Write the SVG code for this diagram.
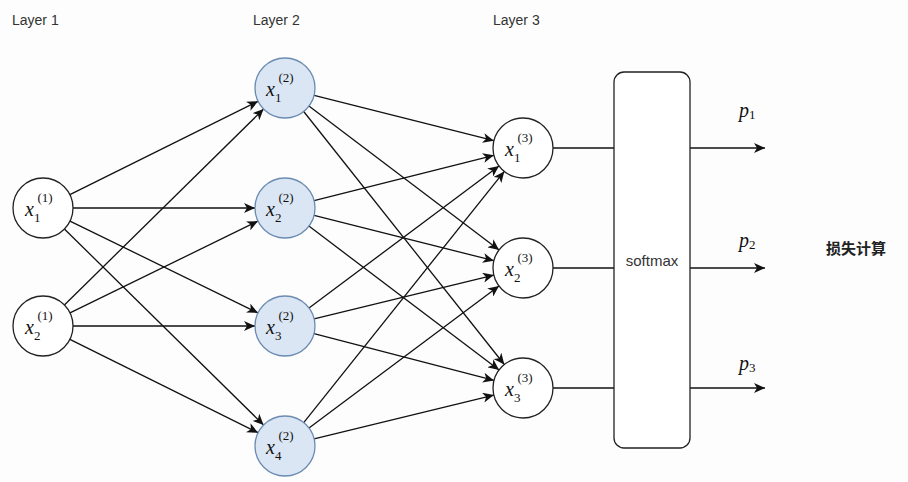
<svg xmlns="http://www.w3.org/2000/svg" width="908" height="482" viewBox="0 0 908 482">
<style>
.lbl{font-family:"Liberation Sans",Arial,sans-serif;font-size:14px;fill:#333}
.n{stroke:#222;stroke-width:1.3;fill:#fff}
.b{fill:#dae6f4;stroke:#6b8bb0}
.c line{stroke:#111;stroke-width:1.3}
.m{font-family:"Liberation Serif","Times New Roman",serif;font-style:italic;fill:#111}
.x{font-size:20px}
.s{font-size:13px;font-style:normal}
</style>
<defs>
<marker id="a" markerWidth="12" markerHeight="10" refX="11" refY="5" orient="auto" markerUnits="userSpaceOnUse"><path d="M0,0 L11,5 L0,10 L3,5 Z" fill="#111"/></marker>
</defs>
<rect width="908" height="482" fill="#fcfdfc"/>
<text class="lbl" x="12" y="25">Layer 1</text>
<text class="lbl" x="253" y="25">Layer 2</text>
<text class="lbl" x="493" y="25">Layer 3</text>
<g class="c">
<line x1="69.9" y1="194.7" x2="258.1" y2="101.3" marker-end="url(#a)"/>
<line x1="73" y1="208" x2="255" y2="208" marker-end="url(#a)"/>
<line x1="70" y1="221.1" x2="258" y2="312.9" marker-end="url(#a)"/>
<line x1="64.4" y1="229" x2="263.6" y2="425" marker-end="url(#a)"/>
<line x1="64.4" y1="305" x2="263.6" y2="109" marker-end="url(#a)"/>
<line x1="70" y1="312.9" x2="258" y2="221.1" marker-end="url(#a)"/>
<line x1="73" y1="326" x2="255" y2="326" marker-end="url(#a)"/>
<line x1="69.9" y1="339.3" x2="258.1" y2="432.7" marker-end="url(#a)"/>
<line x1="314.1" y1="95.3" x2="493.9" y2="140.7" marker-end="url(#a)"/>
<line x1="308.9" y1="106.1" x2="499.1" y2="249.9" marker-end="url(#a)"/>
<line x1="303.7" y1="111.5" x2="504.3" y2="364.5" marker-end="url(#a)"/>
<line x1="314.1" y1="200.7" x2="493.9" y2="155.3" marker-end="url(#a)"/>
<line x1="314.1" y1="215.3" x2="493.9" y2="260.7" marker-end="url(#a)"/>
<line x1="308.9" y1="226.1" x2="499.1" y2="369.9" marker-end="url(#a)"/>
<line x1="309" y1="308" x2="499" y2="166" marker-end="url(#a)"/>
<line x1="314.1" y1="318.9" x2="493.9" y2="275.1" marker-end="url(#a)"/>
<line x1="314" y1="333.6" x2="494" y2="380.4" marker-end="url(#a)"/>
<line x1="303.7" y1="422.6" x2="504.3" y2="171.4" marker-end="url(#a)"/>
<line x1="309" y1="428" x2="499" y2="286" marker-end="url(#a)"/>
<line x1="314.1" y1="438.9" x2="493.9" y2="395.1" marker-end="url(#a)"/>
<line x1="553" y1="148" x2="614" y2="148"/>
<line x1="553" y1="268" x2="614" y2="268"/>
<line x1="553" y1="388" x2="614" y2="388"/>
<line x1="690" y1="148" x2="765" y2="148" marker-end="url(#a)"/>
<line x1="690" y1="268" x2="765" y2="268" marker-end="url(#a)"/>
<line x1="690" y1="388" x2="765" y2="388" marker-end="url(#a)"/>
</g>
<g id="l1n1"><circle class="n" cx="43" cy="208" r="30"/><text class="m" x="25" y="216"><tspan class="x">x</tspan><tspan class="s" dy="6">1</tspan><tspan class="s" dx="-3" dy="-20">(1)</tspan></text></g>
<g id="l1n2"><circle class="n" cx="43" cy="326" r="30"/><text class="m" x="25" y="334"><tspan class="x">x</tspan><tspan class="s" dy="6">2</tspan><tspan class="s" dx="-3" dy="-20">(1)</tspan></text></g>
<g id="l2n1"><circle class="n b" cx="285" cy="88" r="30"/><text class="m" x="266" y="96"><tspan class="x">x</tspan><tspan class="s" dy="6">1</tspan><tspan class="s" dx="-3" dy="-20">(2)</tspan></text></g>
<g id="l2n2"><circle class="n b" cx="285" cy="208" r="30"/><text class="m" x="266" y="216"><tspan class="x">x</tspan><tspan class="s" dy="6">2</tspan><tspan class="s" dx="-3" dy="-20">(2)</tspan></text></g>
<g id="l2n3"><circle class="n b" cx="285" cy="326" r="30"/><text class="m" x="266" y="334"><tspan class="x">x</tspan><tspan class="s" dy="6">3</tspan><tspan class="s" dx="-3" dy="-20">(2)</tspan></text></g>
<g id="l2n4"><circle class="n b" cx="285" cy="446" r="30"/><text class="m" x="266" y="454"><tspan class="x">x</tspan><tspan class="s" dy="6">4</tspan><tspan class="s" dx="-3" dy="-20">(2)</tspan></text></g>
<g id="l3n1"><circle class="n" cx="523" cy="148" r="30"/><text class="m" x="505" y="156"><tspan class="x">x</tspan><tspan class="s" dy="6">1</tspan><tspan class="s" dx="-3" dy="-20">(3)</tspan></text></g>
<g id="l3n2"><circle class="n" cx="523" cy="268" r="30"/><text class="m" x="505" y="276"><tspan class="x">x</tspan><tspan class="s" dy="6">2</tspan><tspan class="s" dx="-3" dy="-20">(3)</tspan></text></g>
<g id="l3n3"><circle class="n" cx="523" cy="388" r="30"/><text class="m" x="505" y="396"><tspan class="x">x</tspan><tspan class="s" dy="6">3</tspan><tspan class="s" dx="-3" dy="-20">(3)</tspan></text></g>
<g id="softmax"><rect class="n" x="614" y="72" width="76" height="376" rx="10"/><text class="lbl" x="652" y="266" text-anchor="middle" style="font-size:15px">softmax</text></g>
<g id="p1"><text class="m" x="739" y="117"><tspan class="x">p</tspan><tspan class="s" dy="2">1</tspan></text></g>
<g id="p2"><text class="m" x="739" y="247"><tspan class="x">p</tspan><tspan class="s" dy="2">2</tspan></text></g>
<g id="p3"><text class="m" x="739" y="370"><tspan class="x">p</tspan><tspan class="s" dy="2">3</tspan></text></g>
<g id="loss"><text x="826" y="254" style="font-family:'Liberation Sans','Noto Sans CJK SC',sans-serif;font-size:15px;font-weight:bold;fill:#222">损失计算</text></g>
</svg>
